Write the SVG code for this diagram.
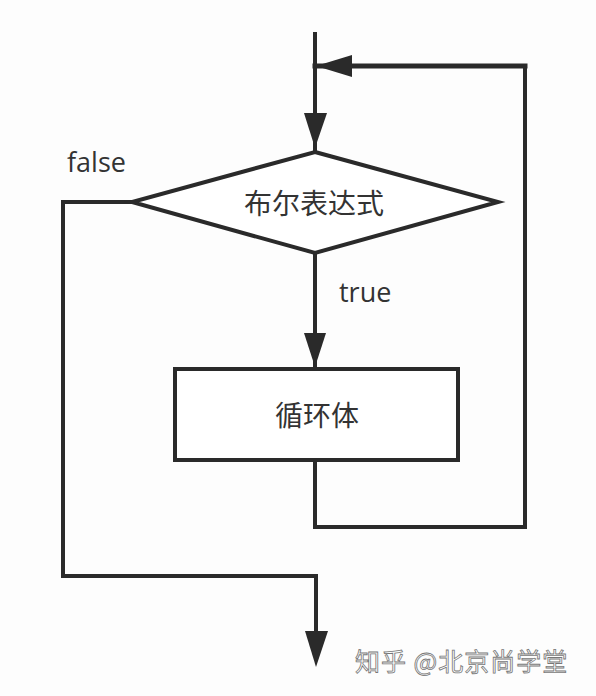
<svg xmlns="http://www.w3.org/2000/svg" width="596" height="696" viewBox="0 0 596 696">
<style>
.ln{fill:none;stroke:#2a2a2a;stroke-width:4;stroke-linejoin:miter;stroke-linecap:square}
.ah{fill:#2a2a2a;stroke:none}
.shape{fill:#fff;stroke:#2a2a2a;stroke-width:4}
.cjk{font-family:"Noto Sans CJK SC","Noto Sans",sans-serif;font-size:28px;fill:#333}
.lat{font-family:"Open Sans","Noto Sans",sans-serif;font-size:27px;fill:#333}
.wm{font-family:"Noto Sans CJK SC",sans-serif;font-size:25px;letter-spacing:1px;fill:#fff;stroke:#777;stroke-width:0.8}
</style>
<rect width="596" height="696" fill="#fdfdfd"/>
<g id="connectors">
<path class="ln" d="M315,34 V150"/>
<polygon class="ah" points="304,113 327,113 315,148"/>
<path class="ln" d="M315,66 H525 V527 H315 V461"/>
<path class="ln" d="M315,66 H525" style="stroke-width:5"/>
<polygon class="ah" points="352,55 352,77 316,66"/>
<path class="ln" d="M315,254 V366"/>
<polygon class="ah" points="304,333 326,333 315,367"/>
<path class="ln" d="M132,202 H63 V576 H316 V640"/>
<polygon class="ah" points="305,631 328,631 316,667"/>
</g>
<g id="decision">
<polygon class="shape" points="315,152 498,202 315,253 132,202"/>
<text class="cjk" x="314" y="214" text-anchor="middle">布尔表达式</text>
</g>
<g id="body">
<rect class="shape" x="175" y="369" width="283" height="91"/>
<text class="cjk" x="317" y="426" text-anchor="middle">循环体</text>
</g>
<g id="labels">
<text class="lat" x="67" y="172">false</text>
<text class="lat" x="339" y="302">true</text>
</g>
<text class="wm" x="355" y="671">知乎 @北京尚学堂</text>
</svg>
